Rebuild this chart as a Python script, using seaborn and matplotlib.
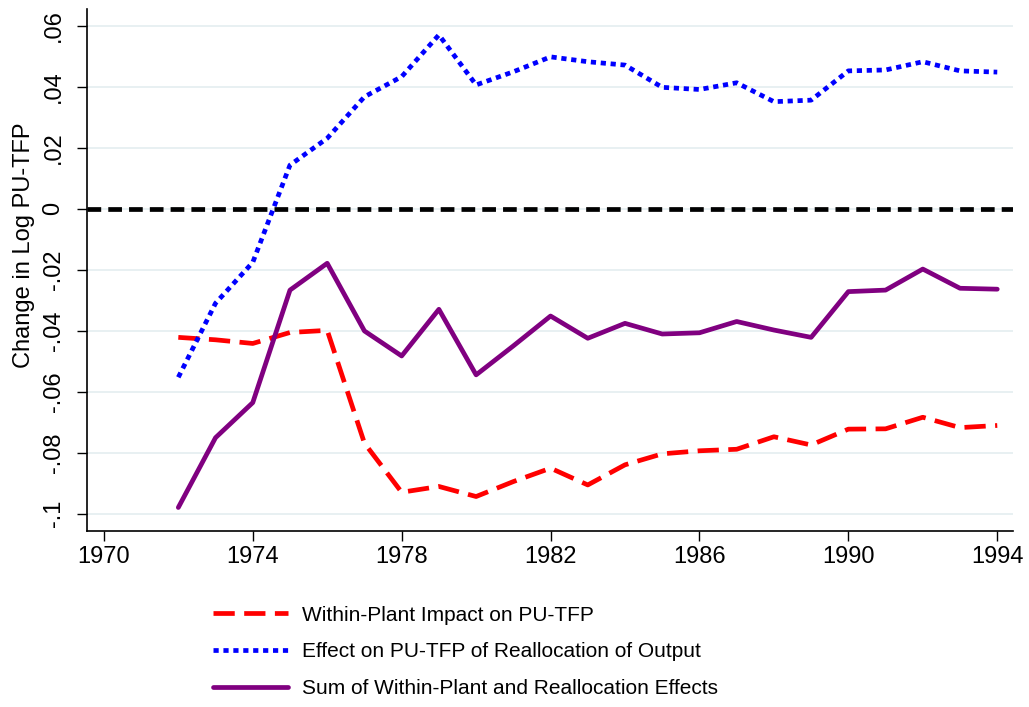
import matplotlib
matplotlib.use("Agg")
import matplotlib.pyplot as plt
import seaborn as sns
import pandas as pd

# =========================
# DATA
# =========================
years = list(range(1972, 1995))

within_plant = [-0.0422, -0.0430, -0.0442, -0.0406, -0.0399, -0.0769, -0.0930,
                -0.0911, -0.0944, -0.0895, -0.0851, -0.0906, -0.0840, -0.0804,
                -0.0794, -0.0789, -0.0748, -0.0775, -0.0723, -0.0722, -0.0684,
                -0.0718, -0.0711]

reallocation = [-0.0553, -0.0310, -0.0176, 0.0143, 0.0231, 0.0367, 0.0433,
                0.0570, 0.0406, 0.0449, 0.0498, 0.0482, 0.0471, 0.0398,
                0.0391, 0.0413, 0.0351, 0.0356, 0.0452, 0.0455, 0.0482,
                0.0452, 0.0448]

total_effect = [-0.0980, -0.0751, -0.0636, -0.0267, -0.0179, -0.0401, -0.0483,
                -0.0330, -0.0545, -0.0450, -0.0352, -0.0425, -0.0376, -0.0411,
                -0.0407, -0.0370, -0.0398, -0.0422, -0.0272, -0.0267, -0.0198,
                -0.0261, -0.0264]

series_names = ["Within-Plant Impact on PU-TFP",
                "Effect on PU-TFP of Reallocation of Output",
                "Sum of Within-Plant and Reallocation Effects"]

y_ticks = [-0.1, -0.08, -0.06, -0.04, -0.02, 0, 0.02, 0.04, 0.06]
y_tick_labels = ["-.1", "-.08", "-.06", "-.04", "-.02", "0", ".02", ".04", ".06"]
x_ticks = [1970, 1974, 1978, 1982, 1986, 1990, 1994]

# long format for seaborn
df = pd.DataFrame({
    "year": years * 3,
    "value": within_plant + reallocation + total_effect,
    "series": [series_names[0]] * len(years)
              + [series_names[1]] * len(years)
              + [series_names[2]] * len(years),
})

# =========================
# STYLE
# =========================
sns.set_style("white")
plt.rcParams["font.family"] = ["Liberation Sans", "DejaVu Sans"]
plt.rcParams["text.color"] = "black"
plt.rcParams["axes.labelcolor"] = "black"
plt.rcParams["xtick.color"] = "black"
plt.rcParams["ytick.color"] = "black"

palette = {series_names[0]: "#ff0000",
           series_names[1]: "#0000ff",
           series_names[2]: "#800080"}
dashes = {series_names[0]: (4.5, 2.0),
          series_names[1]: (1.1, 1.0),
          series_names[2]: ""}

# =========================
# PLOT
# =========================
fig = plt.figure(figsize=(10.29, 7.07), dpi=100)
ax = fig.add_axes([0.0843, 0.2494, 0.9004, 0.7379])

for v in y_ticks:
    ax.axhline(v, color="#e8f0f2", lw=1.4, zorder=0)
ax.axhline(0, color="black", lw=3.4, ls=(0, (2.9, 1.5)), zorder=1)

sns.lineplot(data=df, x="year", y="value", hue="series", style="series",
             palette=palette, dashes=dashes, linewidth=3.4,
             hue_order=series_names, style_order=series_names,
             ax=ax, zorder=3)

ax.set_xlim(1969.54, 1994.43)
ax.set_ylim(-0.1056, 0.0655)
ax.set_xticks(x_ticks)
ax.set_xticklabels([str(t) for t in x_ticks], fontsize=17)
ax.set_yticks(y_ticks)
ax.set_yticklabels(y_tick_labels, rotation=90, va="center", fontsize=17)
ax.tick_params(axis="y", length=7, width=1, pad=9, direction="out", left=True)
ax.tick_params(axis="x", length=7, width=1, pad=4, direction="out", bottom=True)

ax.set_xlabel("")
ax.set_ylabel("Change in Log PU-TFP", fontsize=17, va="center")
ax.yaxis.set_label_coords(-0.0677, 0.5476)

for side in ["top", "right"]:
    ax.spines[side].set_visible(False)
for side in ["left", "bottom"]:
    ax.spines[side].set_color("black")
    ax.spines[side].set_linewidth(1.2)

ax.legend(loc="center left", bbox_to_anchor=(0.207, 0.0778),
          bbox_transform=fig.transFigure, frameon=False, fontsize=15,
          handlelength=3.6, handletextpad=0.65, labelspacing=0.85,
          borderpad=0, borderaxespad=0)

plt.savefig("out.png", dpi=100)
plt.close()
